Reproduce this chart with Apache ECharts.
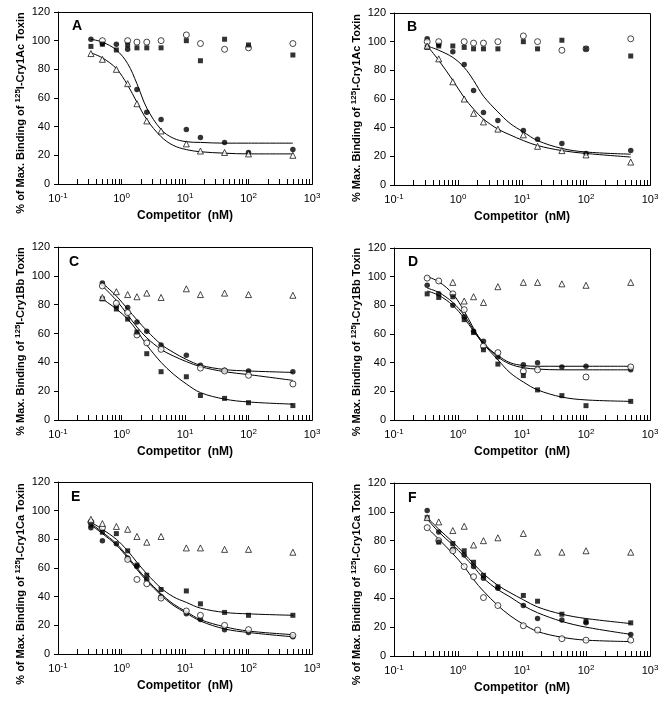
<!DOCTYPE html>
<html><head><meta charset="utf-8">
<script src="https://cdn.jsdelivr.net/npm/echarts@6/dist/echarts.min.js"></script>
<style>html,body{margin:0;padding:0;background:#fff}#c{width:668px;height:707px}</style>
</head><body><div id="c"></div>
<script>
// ---------- DATA ----------
const conc  = [0.33, 0.5, 0.83, 1.25, 1.75, 2.5, 4.2, 10.5, 17.5, 42, 100, 500];
const concC = [0.5, 0.83, 1.25, 1.75, 2.5, 4.2, 10.5, 17.5, 42, 100, 500];
const fitX  = [0.33, 0.5, 0.83, 1.25, 1.75, 2.5, 4.2, 6.5, 10.5, 17.5, 42, 100, 500];
const fitXC = [0.5, 0.83, 1.25, 1.75, 2.5, 4.2, 6.5, 10.5, 17.5, 42, 100, 500];
const minorTicks = [0.2,0.3,0.4,0.5,0.6,0.7,0.8,0.9, 2,3,4,5,6,7,8,9, 20,30,40,50,60,70,80,90, 200,300,400,500,600,700,800,900];
const panelLetters = ['A','B','C','D','E','F'];
const yTitles = [
  '% of Max. Binding of {s|125}I-Cry1Ac Toxin',
  '% Max. Binding of {s|125}I-Cry1Ac Toxin',
  '% Max. Binding of {s|125}I-Cry1Bb Toxin',
  '% Max. Binding of {s|125}I-Cry1Bb Toxin',
  '% of Max. Binding of {s|125}I-Cry1Ca Toxin',
  '% of Max. Binding of {s|125}I-Cry1Ca Toxin'
];
const xTitle = 'Competitor  (nM)';

// Panel A
const aCircle = [101, 98, 97.5, 94, 66, 50, 45, 38, 32.5, 29, 22, 24];
const aOpen   = [null, 100, null, 100, 99, 99, 100, 104, 98, 94, 95, 98];
const aSquare = [96, 97.5, 93.5, 97, 95, 95, 95, 100, 86, 101, 97, 90];
const aTri    = [91, 87, 80, 70, 56, 44, 37, 28, 23, 22, 21, 20];
const aFitCircle = [101, 99, 93.5, 84, 70, 53, 38, 32, 29.5, 29, 28.5, 28.5, 28.5];
const aFitTri    = [91.5, 88, 80.5, 69, 57, 45, 33, 27, 24, 22.5, 21.5, 21, 21];
// Panel B
const bCircle = [102, 98, 93, 84, 66, 50.5, 45, 38, 32, 29, 22, 24];
const bOpen   = [100, 100, null, 100, 99, 99, 100, 104, 100, 94, 95, 102];
const bSquare = [96, 97, 97, 96, 95, 95, 95, 100, 95, 101, 95, 90];
const bTri    = [97, 88, 72, 60, 50, 44, 39, 35, 27, 24, 21, 16];
const bFitCircle = [97, 94, 89, 82, 73, 62, 51, 43, 37, 31, 25.5, 23, 21.5];
const bFitTri    = [97, 87, 73, 61, 53, 46, 39, 35, 31, 27.5, 24, 22, 19.5];
// Panel C
const cCircle = [95, 79, 78, 68, 61.5, 52, 45, 38, 34.5, 34, 33.5];
const cOpen   = [93, 81, 74.5, 59, 53.5, 49, null, 36, 34, 31, 25];
const cSquare = [84, 77, 70, 61, 46, 33.5, 30, 17, 15, 12, 10];
const cTri    = [85, 89, 87, 85.5, 88, 85, 91, 87, 88, 87, 86.5];
const cFitCircle = [95, 86, 77, 69.5, 62, 52.5, 47, 42, 38, 35, 34, 33];
const cFitOpen   = [93, 83, 73, 64.5, 57, 49, 44.5, 40.5, 37, 33.5, 31.5, 27.5];
const cFitSquare = [84, 77, 70, 62, 52, 40, 32, 25, 19, 14.5, 12.5, 11];
// Panel D
const dOpen   = [99, 97, 88, 77, null, 51.5, 47, 34, 35, null, 30, 37];
const dCircle = [94, 88, 80, 72, 62, 55, 44, 38.5, 40, 37, 37.5, 35];
const dSquare = [88, 85.5, 86, 70, 61, 49, 39, 31, 21, 17, 10, 13];
const dTri    = [null, null, 96, 83, 86, 82, 93, 96, 96, 95, 94, 96];
const dFitOpen   = [100, 96.5, 88, 76, 64, 53, 45, 40, 38, 37.5, 37.5, 37.5, 37.5];
const dFitCircle = [92, 89, 82, 73, 63, 54, 44, 39, 36.5, 35.5, 35, 35, 35];
const dFitSquare = [90, 87, 80, 71, 62, 53, 42, 33, 26.5, 21, 16, 14, 13];
// Panel E
const eTri    = [94, 91, 89, 87, 82, 78, 82, 74, 74, 73, 73, 71];
const eSquare = [90, 85, 84, 72, 62, 55, 45, 44, 35, 29, 27, 27];
const eCircle = [88, 79, 77, 67, 61, 52, 40, 28, 24, 17, 15, 12];
const eOpen   = [92, 88, null, 66, 52, 49, 39, 30, 27, 20, 17, 13];
const eFitSquare = [92, 87, 80, 72, 64, 56, 46, 40, 36, 32, 29, 28, 27];
const eFitOpen   = [91, 85, 77, 68, 60, 52, 42, 35, 29.5, 24, 19, 16, 13.5];
const eFitCircle = [90, 84, 76, 67, 59, 51, 41, 34, 28.5, 23, 17.5, 15, 12];
// Panel F
const fCircle = [101, 86, 74, 70, 62, 54, 47, 35, 26, 25, 23, 15];
const fSquare = [96, 79, 78, 73, 65, 56, 48, 42, 38, 29, 24, 23];
const fOpen   = [89, 80, 73, 62, 55, 40.5, 35, 21, 18, 12, 11, 11];
const fTri    = [96, 93, 87, 90, 77, 80, 82, 85, 72, 72, 73, 72];
const fFitSquare = [96, 88, 79, 71, 64, 57, 49, 44, 39, 34, 29, 26, 22.5];
const fFitCircle = [95, 86, 77, 69, 62, 54, 46, 41, 35, 30, 24, 20, 15];
const fFitOpen   = [89, 81, 71, 62, 53, 45, 35, 28, 22, 17, 13, 11, 10];

// ---------- LAYOUT ----------
const grids = [
  {left: 58,  top: 12,  width: 254, height: 172},
  {left: 394, top: 13,  width: 256, height: 172},
  {left: 58,  top: 247, width: 254, height: 173},
  {left: 394, top: 248, width: 256, height: 172},
  {left: 58,  top: 482, width: 254, height: 172},
  {left: 394, top: 483, width: 256, height: 173}
];
const titleShift = [15, 9, 8, 8, 16, 15];
const letterPos = [[72,19],[407,20],[69,255],[408,255],[71,490],[408,491]];

const FONT = '"Liberation Sans", Arial, Helvetica, sans-serif';

const panels = [
  {markers: [['circle',true,conc,aCircle],['circle',false,conc,aOpen],['rect',true,conc,aSquare],['triangle',false,conc,aTri]],
   fits: [[fitX,aFitCircle],[fitX,aFitTri]]},
  {markers: [['circle',true,conc,bCircle],['circle',false,conc,bOpen],['rect',true,conc,bSquare],['triangle',false,conc,bTri]],
   fits: [[fitX,bFitCircle],[fitX,bFitTri]]},
  {markers: [['circle',true,concC,cCircle],['circle',false,concC,cOpen],['rect',true,concC,cSquare],['triangle',false,concC,cTri]],
   fits: [[fitXC,cFitCircle],[fitXC,cFitOpen],[fitXC,cFitSquare]]},
  {markers: [['circle',true,conc,dCircle],['circle',false,conc,dOpen],['rect',true,conc,dSquare],['triangle',false,conc,dTri]],
   fits: [[fitX,dFitOpen],[fitX,dFitCircle],[fitX,dFitSquare]]},
  {markers: [['circle',true,conc,eCircle],['circle',false,conc,eOpen],['rect',true,conc,eSquare],['triangle',false,conc,eTri]],
   fits: [[fitX,eFitSquare],[fitX,eFitOpen],[fitX,eFitCircle]]},
  {markers: [['circle',true,conc,fCircle],['circle',false,conc,fOpen],['rect',true,conc,fSquare],['triangle',false,conc,fTri]],
   fits: [[fitX,fFitSquare],[fitX,fFitCircle],[fitX,fFitOpen]]}
];

function pts(xs, ys) {
  return xs.map((x, i) => [x, ys[i]]).filter(p => p[1] != null);
}

const option = {
  animation: false,
  backgroundColor: '#fff',
  textStyle: {fontFamily: FONT, color: '#000'},
  grid: [], xAxis: [], yAxis: [], series: [], graphic: []
};

grids.forEach((g, i) => {
  option.grid.push(Object.assign({show: false, containLabel: false, outerBoundsMode: 'none'}, g));
  option.xAxis.push({
    type: 'log', logBase: 10, min: 0.1, max: 1000, gridIndex: i,
    axisLine: {show: true, lineStyle: {color: '#000', width: 1}},
    axisTick: {show: true, inside: true, length: 5, lineStyle: {color: '#000'}},
    splitLine: {show: false},
    axisLabel: {
      color: '#000', fontSize: 11, fontFamily: FONT, margin: 8, lineHeight: 14,
      formatter: v => '10{s|' + Math.round(Math.log10(v)) + '}',
      rich: {s: {fontSize: 8, fontFamily: FONT, color: '#000', verticalAlign: 'top', lineHeight: 9}}
    },
    name: xTitle, nameLocation: 'middle', nameGap: 26,
    nameTextStyle: {fontWeight: 'bold', fontSize: 12, fontFamily: FONT, color: '#000'}
  });
  option.yAxis.push({
    type: 'value', min: 0, max: 120, interval: 20, gridIndex: i,
    axisLine: {show: true, lineStyle: {color: '#000', width: 1}},
    axisTick: {show: true, inside: false, length: 4, lineStyle: {color: '#000'}},
    splitLine: {show: false},
    axisLabel: {color: '#000', fontSize: 11, fontFamily: FONT, margin: 8},
    name: yTitles[i], nameLocation: 'middle', nameGap: 30, nameRotate: 90,
    nameTextStyle: {
      fontWeight: 'bold', fontSize: 11, fontFamily: FONT, color: '#000', lineHeight: 14,
      padding: [0, 2 * titleShift[i], 0, 0],
      rich: {s: {fontWeight: 'bold', fontSize: 8, fontFamily: FONT, color: '#000', verticalAlign: 'top', lineHeight: 9}}
    }
  });
  // minor log ticks (inside, at 2..9 of each decade)
  option.series.push({
    type: 'custom', xAxisIndex: i, yAxisIndex: i, silent: true, clip: false, z: 1,
    data: minorTicks.map(v => [v, 0]),
    renderItem: (params, api) => {
      const p = api.coord([api.value(0), api.value(1)]);
      const x = Math.round(p[0]) + 0.5;
      return {type: 'line', shape: {x1: x, y1: p[1], x2: x, y2: p[1] - 5}, style: {stroke: '#000', lineWidth: 1}};
    }
  });
  const pn = panels[i];
  pn.fits.forEach(f => {
    option.series.push({
      type: 'line', xAxisIndex: i, yAxisIndex: i, data: pts(f[0], f[1]),
      smooth: 0.35, showSymbol: false, silent: true, z: 2,
      lineStyle: {color: '#000', width: 1}
    });
  });
  pn.markers.forEach(m => {
    const [sym, filled, xs, ys] = m;
    let size = sym === 'triangle' ? 6 : (sym === 'rect' ? 5 : (filled ? 5.5 : 6));
    option.series.push({
      type: 'scatter', xAxisIndex: i, yAxisIndex: i, data: pts(xs, ys),
      symbol: sym, symbolSize: size, silent: true, z: 3,
      itemStyle: filled ? {color: '#000'} : {color: '#fff', borderColor: '#000', borderWidth: 0.9}
    });
  });
  // plot frame
  option.graphic.push({
    type: 'rect', silent: true, z: 50,
    shape: {x: g.left + 0.5, y: g.top + 0.5, width: g.width, height: g.height},
    style: {fill: 'none', stroke: '#000', lineWidth: 1}
  });
  option.graphic.push({
    type: 'text', left: letterPos[i][0], top: letterPos[i][1], silent: true, z: 50,
    style: {text: panelLetters[i], font: 'bold 14px ' + FONT, fill: '#000'}
  });
});

const chart = echarts.init(document.getElementById('c'), null, {renderer: 'canvas'});
chart.setOption(option);
</script>
</body></html>
